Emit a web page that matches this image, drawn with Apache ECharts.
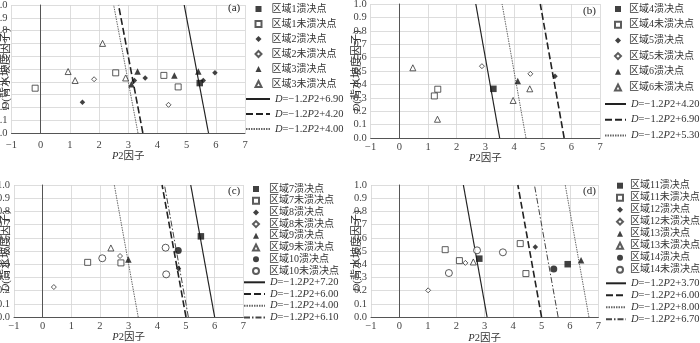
<!DOCTYPE html>
<html><head><meta charset="utf-8">
<script src="https://cdn.jsdelivr.net/npm/echarts@6/dist/echarts.min.js"></script>
<style>html,body{margin:0;padding:0;background:#fff}#c{width:700px;height:343px}</style>
</head><body><div id="c"></div>
<script>
// ---------------- DATA ----------------
const slope = -1.2;
const xTicks = [-1, 0, 1, 2, 3, 4, 5, 6, 7];
const yTicks = [0.0, 0.1, 0.2, 0.3, 0.4, 0.5, 0.6, 0.7, 0.8, 0.9, 1.0];
const xAxisTitle = 'P2因子';
const yAxisTitle = 'D(背水坡度因子)';

// panel (a)
const aNames = ['区域1溃决点','区域1未溃决点','区域2溃决点','区域2未溃决点','区域3溃决点','区域3未溃决点'];
const a_r1_fail = [[5.45,0.39]];
const a_r1_safe = [[-0.19,0.35],[2.57,0.47],[4.22,0.45],[4.71,0.36]];
const a_r2_fail = [[1.43,0.24],[3.21,0.41],[3.58,0.43],[5.57,0.41],[5.97,0.47]];
const a_r2_safe = [[1.83,0.42],[4.38,0.22]];
const a_r3_fail = [[3.11,0.38],[3.32,0.48],[4.58,0.45],[5.40,0.48]];
const a_r3_safe = [[0.94,0.48],[1.18,0.41],[2.12,0.70],[2.91,0.43]];
const aIntercepts = [6.90, 4.20, 4.00];
const aLineTypes = ['solid','dashed','dotted'];

// panel (b)
const bNames = ['区域4溃决点','区域4未溃决点','区域5溃决点','区域5未溃决点','区域6溃决点','区域6未溃决点'];
const b_r4_fail = [[3.28,0.367]];
const b_r4_safe = [[1.34,0.364],[1.22,0.314]];
const b_r5_fail = [[5.43,0.46]];
const b_r5_safe = [[2.88,0.536],[4.57,0.479]];
const b_r6_fail = [[4.13,0.426]];
const b_r6_safe = [[0.47,0.524],[1.33,0.14],[3.97,0.28],[4.55,0.367]];
const bIntercepts = [4.20, 6.90, 5.30];
const bLineTypes = ['solid','dashed','dotted'];

// panel (c)
const cNames = ['区域7溃决点','区域7未溃决点','区域8溃决点','区域8未溃决点','区域9溃决点','区域9未溃决点','区域10溃决点','区域10未溃决点'];
const c_r7_fail = [[5.52,0.611]];
const c_r7_safe = [[1.57,0.414],[2.73,0.41]];
const c_r8_fail = [[4.74,0.367]];
const c_r8_safe = [[0.39,0.227],[2.70,0.462]];
const c_r9_fail = [[2.99,0.435]];
const c_r9_safe = [[2.38,0.523]];
const c_r10_fail = [[4.73,0.503]];
const c_r10_safe = [[2.08,0.445],[4.29,0.525],[4.31,0.323]];
const cIntercepts = [7.20, 6.00, 4.00, 6.10];
const cLineTypes = ['solid','dashed','dotted','dashdot'];

// panel (d)
const dNames = ['区域11溃决点','区域11未溃决点','区域12溃决点','区域12未溃决点','区域13溃决点','区域13未溃决点','区域14溃决点','区域14未溃决点'];
const d_r11_fail = [[2.81,0.442],[5.92,0.40]];
const d_r11_safe = [[1.61,0.51],[2.11,0.427],[4.25,0.556],[4.45,0.329]];
const d_r12_fail = [[4.78,0.53]];
const d_r12_safe = [[1.01,0.202],[2.32,0.41]];
const d_r13_fail = [[6.39,0.43]];
const d_r13_safe = [[2.60,0.417]];
const d_r14_fail = [[5.43,0.364]];
const d_r14_safe = [[1.74,0.333],[2.73,0.505],[3.64,0.49]];
const dIntercepts = [3.70, 6.00, 8.00, 6.70];
const dLineTypes = ['solid','dashed','dotted','dashdot'];

const markerKinds = ['fsq','osq','fdi','odi','ftr','otr','fci','oci'];

// ---------------- STYLE ----------------
const FONT = "'Liberation Serif','Noto Sans CJK SC',serif";
const markerStyles = {
  fsq:{symbol:'rect',symbolSize:6.5,itemStyle:{color:'#111'}},
  osq:{symbol:'rect',symbolSize:6,itemStyle:{color:'#fff',borderColor:'#333',borderWidth:1}},
  fdi:{symbol:'diamond',symbolSize:5.5,itemStyle:{color:'#111'}},
  odi:{symbol:'diamond',symbolSize:5,itemStyle:{color:'#fff',borderColor:'#333',borderWidth:1}},
  ftr:{symbol:'triangle',symbolSize:6.5,itemStyle:{color:'#111'}},
  otr:{symbol:'triangle',symbolSize:6,itemStyle:{color:'#fff',borderColor:'#333',borderWidth:1}},
  fci:{symbol:'circle',symbolSize:7,itemStyle:{color:'#111'}},
  oci:{symbol:'circle',symbolSize:7,itemStyle:{color:'#fff',borderColor:'#333',borderWidth:1}}
};
const lineStyles = {
  solid:{type:'solid',width:1.2,color:'#222'},
  dashed:{type:[7,3],width:1.6,color:'#222'},
  dotted:{type:[1.5,1],width:1,color:'#666'},
  dashdot:{type:[6,2,1.5,2],width:1,color:'#444'}
};

const panels = [
  {id:'a', names:aNames, groups:[a_r1_fail,a_r1_safe,a_r2_fail,a_r2_safe,a_r3_fail,a_r3_safe],
   inter:aIntercepts, types:aLineTypes,
   grid:{left:11.5,top:5,width:233.5,height:128},
   lblMargin:7, xNameGap:18, yGap:0,
   sLeg:{left:254.5,top:3,gap:3,lh:12,pad:5}, lLeg:{left:245,top:93,gap:3,lh:12,w:24},
   title:{left:228,top:3}},
  {id:'b', names:bNames, groups:[b_r4_fail,b_r4_safe,b_r5_fail,b_r5_safe,b_r6_fail,b_r6_safe],
   inter:bIntercepts, types:bLineTypes,
   grid:{left:370.7,top:4,width:229.3,height:134},
   lblMargin:4, xNameGap:15, yGap:8,
   sLeg:{left:614,top:3,gap:3.7,lh:12,pad:3}, lLeg:{left:604,top:98,gap:3.7,lh:12,w:21},
   title:{left:583,top:6}},
  {id:'c', names:cNames, groups:[c_r7_fail,c_r7_safe,c_r8_fail,c_r8_safe,c_r9_fail,c_r9_safe,c_r10_fail,c_r10_safe],
   inter:cIntercepts, types:cLineTypes,
   grid:{left:14,top:185,width:229.3,height:132},
   lblMargin:4, xNameGap:15, yGap:2,
   sLeg:{left:252,top:183.5,gap:0.7,lh:11,pad:5}, lLeg:{left:243,top:276.8,gap:0.7,lh:11,w:21},
   title:{left:228,top:186}},
  {id:'d', names:dNames, groups:[d_r11_fail,d_r11_safe,d_r12_fail,d_r12_safe,d_r13_fail,d_r13_safe,d_r14_fail,d_r14_safe],
   inter:dIntercepts, types:dLineTypes,
   grid:{left:371,top:185,width:227.4,height:132},
   lblMargin:4, xNameGap:16, yGap:8,
   sLeg:{left:616,top:180.2,gap:1,lh:11,pad:2}, lLeg:{left:605,top:277.8,gap:1,lh:11,w:20},
   title:{left:583,top:186}}
];

const YN_FS = 11;
const richItalic = (fs) => ({i:{fontStyle:'italic',fontFamily:FONT,fontSize:fs,color:'#333'},
                             t:{fontFamily:FONT,fontSize:fs,color:'#333'}});
const yRich = '{i|' + yAxisTitle.slice(0,1) + '}{t|' + yAxisTitle.slice(1) + '}';
const grids=[], xAxes=[], yAxes=[], series=[], legends=[], titles=[];
panels.forEach((p, i) => {
  grids.push(Object.assign({show:false, containLabel:false, outerBoundsMode:'none'}, p.grid));
  xAxes.push({
    type:'value', gridIndex:i, min:xTicks[0], max:xTicks[xTicks.length-1], interval:1,
    name:'{i|' + xAxisTitle.slice(0,1) + '}{t|' + xAxisTitle.slice(1) + '}', nameLocation:'middle', nameGap:p.xNameGap,
    nameTextStyle:{fontFamily:FONT,fontSize:10.5,color:'#333',rich:richItalic(10.5)},
    axisLine:{onZero:true,lineStyle:{color:'#555',width:1}},
    axisTick:{show:false},
    axisLabel:{margin:p.lblMargin,fontFamily:FONT,fontSize:10.5,color:'#444',
      formatter:v=> v<0 ? '\u2212'+(-v) : String(v)},
    splitLine:{show:true,lineStyle:{color:'#d4d4d4',width:0.8}}
  });
  // main value axis (sits at P2 = 0)
  yAxes.push({
    type:'value', gridIndex:i, position:'left', min:yTicks[0], max:yTicks[yTicks.length-1], interval:0.1,
    axisLine:{show:true,onZero:true,lineStyle:{color:'#555',width:1}},
    axisTick:{show:false},
    axisLabel:{margin:4,fontFamily:FONT,fontSize:10.5,color:'#444',formatter:v=>v.toFixed(1)},
    splitLine:{show:true,lineStyle:{color:'#d4d4d4',width:0.8}}
  });
  // companion axis at the plot's left edge, carrying only the axis title
  yAxes.push({
    type:'value', gridIndex:i, position:'left', min:yTicks[0], max:yTicks[yTicks.length-1], interval:0.1,
    axisLine:{show:false,onZero:false}, axisTick:{show:false}, axisLabel:{show:false}, splitLine:{show:false},
    name:yRich, nameLocation:'middle', nameGap:p.yGap, nameMoveOverlap:false,
    nameTextStyle:{fontFamily:FONT,fontSize:YN_FS,color:'#333',rich:richItalic(YN_FS)}
  });
  p.groups.forEach((g, k) => {
    const m = markerStyles[markerKinds[k]];
    series.push({type:'scatter', name:p.names[k], xAxisIndex:i, yAxisIndex:2*i, z:3,
      symbol:m.symbol, symbolSize:m.symbolSize, itemStyle:m.itemStyle, data:g});
  });
  const lineNames = [];
  p.inter.forEach((c, k) => {
    const nm = p.id + ':D=\u22121.2P2+' + c.toFixed(2);
    lineNames.push(nm);
    const ls = lineStyles[p.types[k]];
    series.push({type:'line', name:nm, xAxisIndex:i, yAxisIndex:2*i, z:2, symbol:'none',
      silent:true, clip:true, lineStyle:ls, itemStyle:{color:ls.color},
      data:[[(0 - c)/slope, 0], [(1 - c)/slope, 1]]});
  });
  legends.push({orient:'vertical', left:p.sLeg.left, top:p.sLeg.top, itemGap:p.sLeg.gap,
    itemWidth:6, itemHeight:6, selectedMode:false, padding:0, data:p.names,
    textStyle:{fontFamily:FONT,fontSize:10,color:'#333',lineHeight:p.sLeg.lh,padding:[0,0,0,p.sLeg.pad]}});
  legends.push({orient:'vertical', left:p.lLeg.left, top:p.lLeg.top, itemGap:p.lLeg.gap,
    itemWidth:p.lLeg.w, itemHeight:7, selectedMode:false, padding:0, data:lineNames,
    itemStyle:{opacity:0},
    formatter:n=>{const t=n.split(':')[1]; return '{i|D}{t|=\u22121.2}{i|P}{t|2+'+t.split('+')[1]+'}';},
    textStyle:{fontFamily:FONT,fontSize:10.5,color:'#333',lineHeight:p.lLeg.lh,
      rich:{i:{fontStyle:'italic',fontFamily:FONT,fontSize:10.5,color:'#333',lineHeight:p.lLeg.lh},
            t:{fontFamily:FONT,fontSize:10.5,color:'#333',lineHeight:p.lLeg.lh}}}});
  titles.push({text:'('+p.id+')', left:p.title.left, top:p.title.top, padding:0,
    textStyle:{fontFamily:FONT,fontSize:11,fontWeight:'normal',color:'#222'}});
});

const chart = echarts.init(document.getElementById('c'));
chart.setOption({animation:false, backgroundColor:'#fff', title:titles, grid:grids,
  xAxis:xAxes, yAxis:yAxes, legend:legends, series:series});
</script></body></html>
